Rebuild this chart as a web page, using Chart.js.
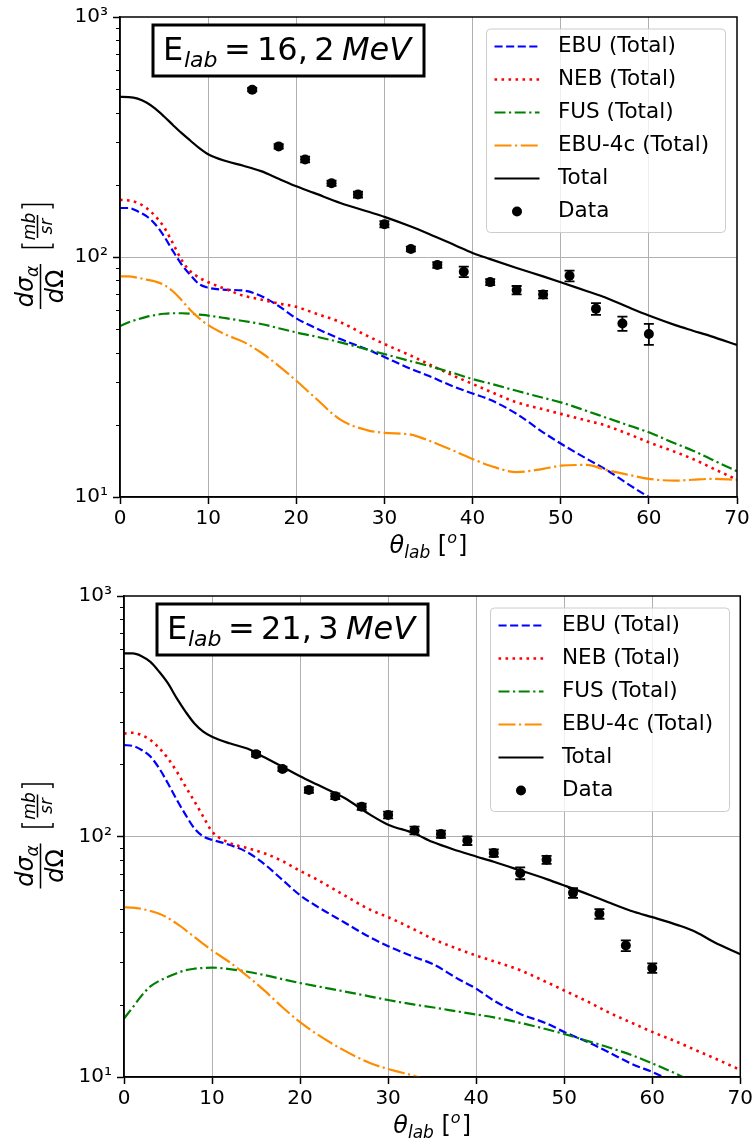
<!DOCTYPE html>
<html>
<head>
<meta charset="utf-8">
<script src="https://cdn.jsdelivr.net/npm/chart.js@4.4.1/dist/chart.umd.min.js"></script>
<style>
  html, body { margin: 0; padding: 0; background: #fff; }
  #wrap { position: relative; width: 756px; height: 1148px; }
  canvas { position: absolute; left: 0; }
</style>
</head>
<body>
<div id="wrap">
  <canvas id="chartTop" width="756" height="574" style="top:0"></canvas>
  <canvas id="chartBot" width="756" height="574" style="top:574px"></canvas>
</div>
<script>
// angles (deg) where the model curves are sampled
const theta = [0, 1, 2, 3, 4, 5, 6, 7, 8, 9, 10, 12, 14, 16, 18, 20, 22, 25, 28, 30, 33, 35, 38, 40, 42, 45, 48, 50, 53, 55, 58, 60, 63, 65, 67, 70];
const seriesLabels = ["EBU (Total)", "NEB (Total)", "FUS (Total)", "EBU-4c (Total)", "Total", "Data"];
const yTickLabels = { 10: "10¹", 100: "10²", 1000: "10³" };

// E_lab = 16,2 MeV
const ebuTop = [160, 160, 155, 148, 137, 122, 106, 93, 84, 77, 74.5, 73, 72.5, 68.8, 62.5, 55.5, 51, 45.5, 41.3, 38.3, 34.2, 32, 28.7, 27, 25.4, 22.2, 18.6, 16.7, 14.4, 13.1, 11.1, 10, 8.8, null, null, null];
const nebTop = [173, 172, 168, 160, 148, 133, 114, 97, 87, 82, 78.5, 73.5, 69, 66.5, 64, 62, 58.5, 53.5, 47, 43.4, 38.8, 35.8, 31.8, 29.6, 27.5, 24.8, 23.2, 22.2, 20.8, 19.9, 18.1, 16.9, 15.4, 14.4, 13.3, 11.8];
const fusTop = [51.5, 53.5, 55, 56.3, 57.3, 58, 58.3, 58.3, 58, 57.5, 57, 55.6, 54.1, 52.6, 50.5, 48.5, 46.8, 44.1, 41.2, 39.4, 36.8, 35.2, 32.7, 31, 29.7, 27.7, 25.9, 24.8, 22.8, 21.5, 19.7, 18.6, 16.7, 15.6, 14.4, 12.8];
const ebu4cTop = [83, 83, 82, 80.5, 79, 76.5, 72, 66, 60, 55.5, 52, 47.5, 44.3, 40, 35.2, 30.5, 26.2, 21, 19, 18.5, 18.2, 17.2, 15.5, 14.4, 13.5, 12.7, 13.1, 13.5, 13.6, 13, 12.3, 11.9, 11.7, 11.8, 11.9, 11.8];
const totalTop = [465, 464, 457, 440, 415, 385, 355, 328, 305, 284, 268, 251, 240, 228, 212, 197, 185, 168, 155, 147, 134, 125, 112, 104, 98, 90, 83, 78.5, 72, 68, 61, 57, 52, 49.3, 46.8, 43];

// E_lab = 21,3 MeV
const ebuBot = [240, 238, 229, 215, 192, 166, 142, 123, 108, 100, 96.9, 92.3, 86, 76.5, 66, 57, 51, 44, 38, 35, 31.5, 29.6, 25.5, 23.3, 20.8, 18.3, 16.7, 15.4, 13.8, 12.7, 11.2, 10.5, 9.3, null, null, null];
const nebBot = [268, 270, 264, 252, 233, 211, 186, 161, 140, 121, 105, 94, 89.5, 85, 79, 72, 66, 57, 49.5, 46.2, 41, 37.6, 34, 32, 30.3, 27.8, 24.8, 22.9, 20.3, 18.6, 16.6, 15.4, 13.9, 12.9, 12, 10.7];
const fusBot = [17.5, 19.5, 21.8, 23.8, 25.1, 26.1, 27, 27.8, 28.2, 28.4, 28.5, 28.1, 27.4, 26.5, 25.5, 24.6, 23.8, 22.7, 21.6, 20.9, 20, 19.5, 18.7, 18.2, 17.7, 16.8, 15.8, 15.1, 14, 13.3, 12.2, 11.4, 10.2, 9.4, null, null];
const ebu4cBot = [50.8, 50.6, 50, 49, 47.7, 45.8, 43.4, 40.8, 38.2, 35.8, 33.6, 30, 26.3, 22.8, 19.5, 16.9, 15, 12.9, 11.4, 10.8, 10.1, 9.6, null, null, null, null, null, null, null, null, null, null, null, null, null, null];
const totalBot = [577, 577, 562, 532, 484, 433, 375, 330, 295, 273, 260, 244, 232, 213, 195, 178, 164, 145, 123, 112, 103, 95, 87, 82.6, 78.5, 72.3, 66.5, 62.6, 57, 53.3, 48.5, 46.2, 42.7, 40, 36.4, 32.4];

// measured points
const dataTheta = [15, 18, 21, 24, 27, 30, 33, 36, 39, 42, 45, 48, 51, 54, 57, 60];
const dataTop = [498, 289, 255, 203, 182, 137, 108, 92.6, 86.8, 78.6, 72.8, 69.8, 83.5, 60.8, 52.8, 47.8];
const errTop = [8, 6, 7, 5, 5, 4, 2.5, 2.5, 4.4, 2.3, 2.9, 2.5, 4.3, 3.4, 3.6, 4.8];
const dataBot = [220, 191, 156, 147, 133, 123, 106, 102.3, 96.2, 85.3, 70.4, 80, 58.3, 47.7, 35.2, 28.4];
const errBot = [5, 4, 4, 4, 4, 4, 4, 3.5, 4, 3, 4, 3, 2.7, 2.2, 1.8, 1.3];

const FONT = "'DejaVu Sans', sans-serif";
Chart.defaults.font.family = FONT;
Chart.defaults.color = "#000";

const lineStyles = [
  { color: "#0000ff", width: 2.2, dash: [8.1, 3.5] },
  { color: "#ff0000", width: 2.6, dash: [2.6, 4.4] },
  { color: "#008000", width: 2.2, dash: [11, 3.5, 2.2, 3.5] },
  { color: "#ff8c00", width: 2.2, dash: [17, 3.5, 2.2, 3.5] },
  { color: "#000000", width: 2.2, dash: [] },
];

function drawPieces(ctx, pieces, x0, y0) {
  let x = x0;
  for (const p of pieces) {
    ctx.font = `${p.style || "normal"} ${p.size}px ${FONT}`;
    ctx.fillText(p.t, x, y0 + (p.dy || 0));
    x += ctx.measureText(p.t).width + (p.gap || 0);
  }
  return x - x0;
}

function piecesWidth(ctx, pieces) {
  let w = 0;
  for (const p of pieces) {
    ctx.font = `${p.style || "normal"} ${p.size}px ${FONT}`;
    w += ctx.measureText(p.t).width + (p.gap || 0);
  }
  return w;
}

function makeDecor(energy) {
  return {
    id: "decor",
    afterDatasetsDraw(chart) {
      const { ctx, scales } = chart;
      const xs = scales.x, ys = scales.y;
      const pts = chart.data.datasets[5];
      ctx.save();
      // error bars
      ctx.strokeStyle = "#000";
      ctx.lineWidth = 1.8;
      pts.data.forEach((p, i) => {
        const e = pts.errors[i];
        const px = xs.getPixelForValue(p.x);
        const y1 = ys.getPixelForValue(p.y + e);
        const y2 = ys.getPixelForValue(p.y - e);
        ctx.beginPath();
        ctx.moveTo(px, y1); ctx.lineTo(px, y2);
        ctx.moveTo(px - 5, y1); ctx.lineTo(px + 5, y1);
        ctx.moveTo(px - 5, y2); ctx.lineTo(px + 5, y2);
        ctx.stroke();
      });
      ctx.restore();
    },
    afterDraw(chart) {
      const { ctx, chartArea: a, scales } = chart;
      const ys = scales.y;
      ctx.save();
      // spines
      ctx.strokeStyle = "#000";
      ctx.lineWidth = 1.5;
      ctx.strokeRect(a.left, a.top, a.right - a.left, a.bottom - a.top);
      // minor y ticks
      ctx.lineWidth = 1;
      ctx.beginPath();
      for (const d of [10, 100]) {
        for (let k = 2; k <= 9; k++) {
          const py = Math.round(ys.getPixelForValue(k * d)) + 0.5;
          ctx.moveTo(a.left - 4, py); ctx.lineTo(a.left, py);
        }
      }
      ctx.stroke();

      // energy box
      ctx.fillStyle = "#fff";
      ctx.fillRect(a.left + 33, a.top + 8, 271, 51);
      ctx.lineWidth = 3;
      ctx.strokeRect(a.left + 33, a.top + 8, 271, 51);
      ctx.fillStyle = "#000";
      ctx.textBaseline = "alphabetic";
      ctx.textAlign = "left";
      const by = a.top + 43;
      ctx.font = `32px ${FONT}`; ctx.fillText("E", a.left + 43, by);
      ctx.font = `italic 22px ${FONT}`; ctx.fillText("lab", a.left + 64, by + 7);
      ctx.font = `32px ${FONT}`; ctx.fillText("=", a.left + 104, by);
      ctx.fillText(energy, a.left + 137, by);
      ctx.font = `italic 32px ${FONT}`; ctx.fillText("MeV", a.left + 222, by);

      // legend
      const lx = a.left + 366, ly = a.top + 11.5, lw = 239, lh = 203.5;
      ctx.beginPath();
      ctx.roundRect(lx + 0.5, ly + 0.5, lw, lh, 4);
      ctx.fillStyle = "rgba(255,255,255,0.8)";
      ctx.fill();
      ctx.strokeStyle = "#cccccc";
      ctx.lineWidth = 1;
      ctx.stroke();
      chart.data.datasets.forEach((ds, i) => {
        const cy = a.top + 29.5 + 33 * i;
        const x0 = a.left + 374.5, x1 = a.left + 419.5;
        if (i < 5) {
          ctx.beginPath();
          ctx.setLineDash(ds.borderDash);
          ctx.strokeStyle = ds.borderColor;
          ctx.lineWidth = ds.borderWidth;
          ctx.moveTo(x0, cy); ctx.lineTo(x1, cy);
          ctx.stroke();
          ctx.setLineDash([]);
        } else {
          ctx.beginPath();
          ctx.fillStyle = "#000";
          ctx.arc((x0 + x1) / 2, cy, 5, 0, Math.PI * 2);
          ctx.fill();
        }
        ctx.fillStyle = "#000";
        ctx.font = `21.5px ${FONT}`;
        ctx.textBaseline = "middle";
        ctx.fillText(ds.label, a.left + 438, cy);
      });

      // x axis title
      ctx.textBaseline = "alphabetic";
      const xl = [
        { t: "θ", style: "italic", size: 24 },
        { t: "lab", style: "italic", size: 17, dy: 5 },
        { t: " [", size: 24 },
        { t: "o", style: "italic", size: 16, dy: -10, gap: 1 },
        { t: "]", size: 24 },
      ];
      const cx = (a.left + a.right) / 2;
      drawPieces(ctx, xl, cx - piecesWidth(ctx, xl) / 2, a.bottom + 56);

      // y axis title (rotated)
      ctx.translate(40.5, (a.top + a.bottom) / 2);
      ctx.rotate(-Math.PI / 2);
      const num = [
        { t: "dσ", style: "italic", size: 24 },
        { t: "α", style: "italic", size: 17, dy: 5 },
      ];
      drawPieces(ctx, num, -29.5 - piecesWidth(ctx, num) / 2, -8);
      const den = [
        { t: "d", style: "italic", size: 24 },
        { t: "Ω", size: 24 },
      ];
      drawPieces(ctx, den, -29.5 - piecesWidth(ctx, den) / 2, 22);
      ctx.strokeStyle = "#000";
      ctx.lineWidth = 1.5;
      ctx.beginPath();
      ctx.moveTo(-52, 0); ctx.lineTo(-7, 0);
      ctx.moveTo(19, -3); ctx.lineTo(42, -3);
      // brackets
      ctx.moveTo(13.5, -18.5); ctx.lineTo(9.5, -18.5); ctx.lineTo(9.5, 12.5); ctx.lineTo(13.5, 12.5);
      ctx.moveTo(48.5, -18.5); ctx.lineTo(52.5, -18.5); ctx.lineTo(52.5, 12.5); ctx.lineTo(48.5, 12.5);
      ctx.stroke();
      const mb = [{ t: "mb", style: "italic", size: 17 }];
      drawPieces(ctx, mb, 30.5 - piecesWidth(ctx, mb) / 2, -6);
      const sr = [{ t: "sr", style: "italic", size: 17 }];
      drawPieces(ctx, sr, 30.5 - piecesWidth(ctx, sr) / 2, 11);
      ctx.restore();
    },
  };
}

function makeChart(id, curves, pts, errs, pad, energy) {
  const datasets = curves.map((vals, i) => ({
    label: seriesLabels[i],
    data: theta.map((t, j) => ({ x: t, y: vals[j] })),
    borderColor: lineStyles[i].color,
    borderDash: lineStyles[i].dash,
    borderWidth: lineStyles[i].width,
    borderCapStyle: "butt",
    cubicInterpolationMode: "monotone",
    pointRadius: 0,
    fill: false,
    order: 6 - i,
  }));
  datasets.push({
    label: seriesLabels[5],
    data: dataTheta.map((t, j) => ({ x: t, y: pts[j] })),
    errors: errs,
    showLine: false,
    pointRadius: 5,
    pointBackgroundColor: "#000",
    pointBorderWidth: 0,
    borderColor: "#000",
    order: 1,
  });

  return new Chart(document.getElementById(id).getContext("2d"), {
    type: "line",
    data: { datasets },
    options: {
      responsive: false,
      animation: false,
      devicePixelRatio: 1,
      layout: { padding: { left: pad.left, right: pad.right, top: pad.top, bottom: 0 } },
      plugins: { legend: { display: false }, tooltip: { enabled: false } },
      scales: {
        x: {
          type: "linear",
          min: 0,
          max: 70,
          afterFit: (s) => { s.height = pad.xh; },
          ticks: { stepSize: 10, font: { size: 20 }, color: "#000", padding: 3, maxRotation: 0 },
          grid: {
            color: (c) => (c.tick && c.tick.value > 0 && c.tick.value < 70 ? "#b0b0b0" : "rgba(0,0,0,0)"),
            lineWidth: 1,
            tickColor: "#000",
            tickLength: 7,
            tickWidth: 1.5,
          },
          border: { color: "#000", width: 1.5 },
        },
        y: {
          type: "logarithmic",
          min: 10,
          max: 1000,
          afterFit: (s) => { s.width = 120; },
          afterBuildTicks: (s) => { s.ticks = [10, 100, 1000].map((v) => ({ value: v, major: true })); },
          ticks: { callback: (v) => yTickLabels[v] || "", font: { size: 20 }, color: "#000", padding: 5 },
          grid: {
            color: (c) => (c.tick && c.tick.value === 100 ? "#b0b0b0" : "rgba(0,0,0,0)"),
            lineWidth: 1,
            tickColor: "#000",
            tickLength: 7,
            tickWidth: 1.5,
          },
          border: { color: "#000", width: 1.5 },
        },
      },
    },
    plugins: [makeDecor(energy)],
  });
}

makeChart("chartTop", [ebuTop, nebTop, fusTop, ebu4cTop, totalTop], dataTop, errTop,
  { left: 0, right: 19, top: 15, xh: 77 }, "16,\u20092");
makeChart("chartBot", [ebuBot, nebBot, fusBot, ebu4cBot, totalBot], dataBot, errBot,
  { left: 4, right: 15, top: 22, xh: 71 }, "21,\u20093");
</script>
</body>
</html>
